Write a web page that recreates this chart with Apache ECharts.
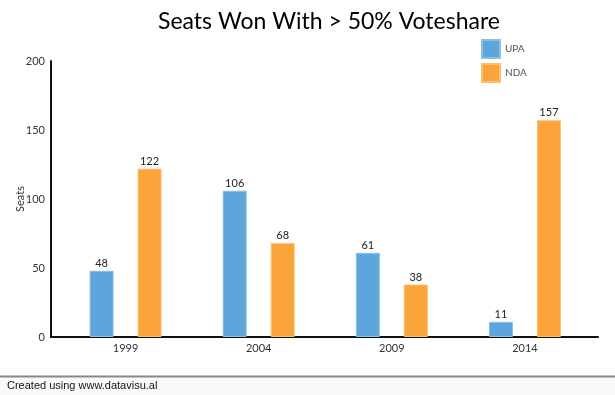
<!DOCTYPE html>
<html>
<head>
<meta charset="utf-8">
<script src="https://cdn.jsdelivr.net/npm/echarts@6/dist/echarts.min.js"></script>
<style>
html,body{margin:0;padding:0;background:#fff;}
#chart{width:615px;height:395px;}
</style>
</head>
<body>
<div id="chart"></div>
<script>
const categories = ['1999', '2004', '2009', '2014'];
const upaSeats = [48, 106, 61, 11];
const ndaSeats = [122, 68, 38, 157];
const seriesNames = ['UPA', 'NDA'];
const yTicks = [0, 50, 100, 150, 200];

const FONT = 'Lato, "Noto Sans", sans-serif';
const chart = echarts.init(document.getElementById('chart'), null, {renderer: 'canvas'});
const labelStyle = {show: true, position: 'top', distance: 2, color: '#222', fontSize: 11, fontFamily: FONT};

chart.setOption({
  animation: false,
  title: {
    text: 'Seats Won With > 50% Voteshare',
    left: 324, top: 5, textAlign: 'center',
    textStyle: {fontFamily: FONT, fontWeight: 'normal', fontSize: 23, color: '#000'}
  },
  legend: {
    orient: 'vertical', left: 481, top: 39, padding: 0,
    itemWidth: 18, itemHeight: 18, itemGap: 4, icon: 'rect',
    data: seriesNames,
    textStyle: {fontFamily: FONT, fontSize: 10, color: '#555'}
  },
  grid: [
    {left: 59, right: 23.5, top: 61, bottom: 58},
    {left: 51, right: 17, top: 61, bottom: 58}
  ],
  xAxis: [
    {type: 'category', gridIndex: 0, data: categories,
     axisLine: {show: false}, axisTick: {show: false},
     axisLabel: {fontFamily: FONT, fontSize: 11, color: '#333', margin: 6}},
    {type: 'value', gridIndex: 1, min: 0, max: 1, show: true,
     axisLine: {show: true, onZero: false, lineStyle: {color: '#111', width: 2}},
     axisTick: {show: false}, axisLabel: {show: false}, splitLine: {show: false}}
  ],
  yAxis: [
    {type: 'value', gridIndex: 0, min: yTicks[0], max: yTicks[yTicks.length - 1], interval: 50, show: false, splitLine: {show: false}},
    {type: 'value', gridIndex: 1, min: yTicks[0], max: yTicks[yTicks.length - 1], interval: 50,
     name: 'Seats', nameLocation: 'middle', nameGap: 25, nameMoveOverlap: false,
     nameTextStyle: {fontFamily: FONT, fontSize: 11, color: '#333'},
     axisLine: {show: true, onZero: false, lineStyle: {color: '#111', width: 2}},
     axisTick: {show: false}, splitLine: {show: false},
     axisLabel: {fontFamily: FONT, fontSize: 11, color: '#333', margin: 6}}
  ],
  series: [
    {name: seriesNames[0], type: 'bar', xAxisIndex: 0, yAxisIndex: 0, data: upaSeats,
     barWidth: 24, barGap: '100%',
     itemStyle: {color: '#5DA5DA', borderColor: '#8cbfe6', borderWidth: 1},
     label: labelStyle},
    {name: seriesNames[1], type: 'bar', xAxisIndex: 0, yAxisIndex: 0, data: ndaSeats,
     barWidth: 24, barGap: '100%',
     itemStyle: {color: '#FAA43A', borderColor: '#fbbf6f', borderWidth: 1},
     label: labelStyle}
  ],
  graphic: [
    {type: 'rect', left: 0, top: 377, shape: {width: 615, height: 18}, style: {fill: '#fafafa'}, silent: true},
    {type: 'rect', left: 0, top: 375.5, shape: {width: 615, height: 2}, style: {fill: '#888'}, silent: true},
    {type: 'text', left: 7, top: 380, style: {text: 'Created using www.datavisu.al', fontFamily: 'Arial, "Liberation Sans", sans-serif', fontSize: 11, fill: '#111'}}
  ]
});
</script>
</body>
</html>
